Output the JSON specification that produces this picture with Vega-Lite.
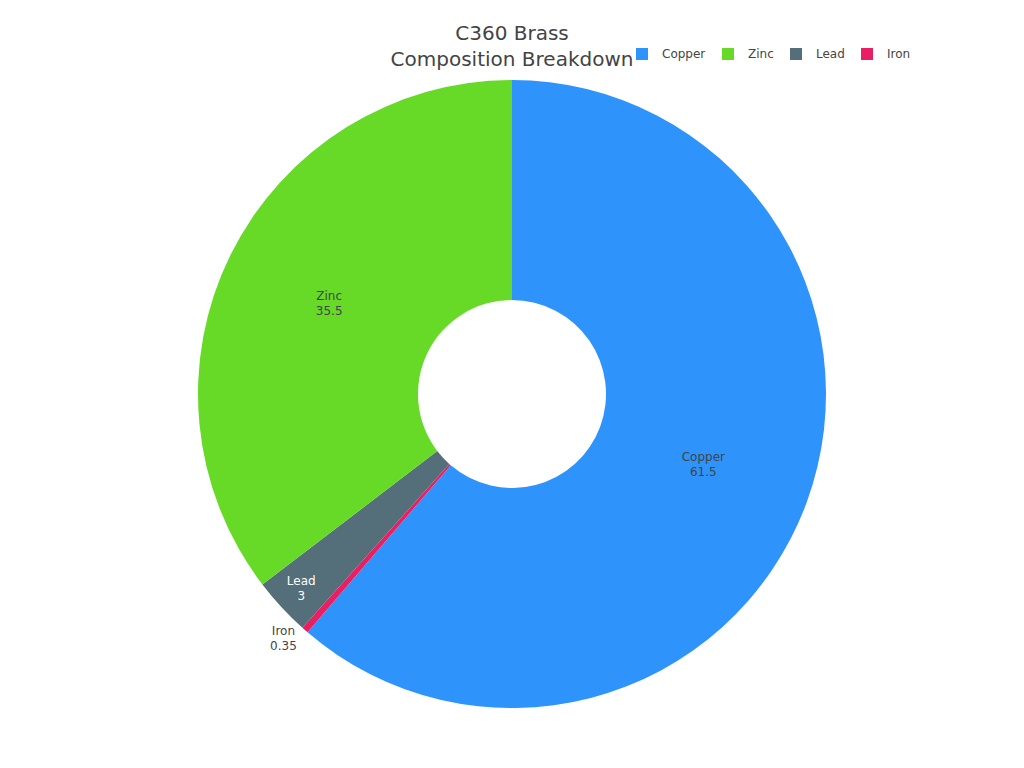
{
  "$schema": "https://vega.github.io/schema/vega-lite/v6.json",
  "width": 1024,
  "height": 788,
  "autosize": "none",
  "padding": 0,
  "background": "white",
  "title": {
    "text": ["C360 Brass", "Composition Breakdown"],
    "anchor": "middle",
    "baseline": "top",
    "offset": 0,
    "dy": 70,
    "fontSize": 20,
    "lineHeight": 26,
    "font": "DejaVu Sans",
    "fontWeight": "normal",
    "color": "#444"
  },
  "data": {
    "values": [
      {"name": "Copper", "value": 61.5, "order": 1},
      {"name": "Iron", "value": 0.35, "order": 2},
      {"name": "Lead", "value": 3, "order": 3},
      {"name": "Zinc", "value": 35.5, "order": 4}
    ]
  },
  "transform": [
    {"calculate": "[datum.name, datum.value + '']", "as": "label"}
  ],
  "encoding": {
    "theta": {"field": "value", "type": "quantitative", "stack": true},
    "order": {"field": "order", "type": "quantitative"}
  },
  "layer": [
    {
      "mark": {"type": "arc", "innerRadius": 94, "outerRadius": 314},
      "encoding": {
        "color": {
          "field": "name",
          "type": "nominal",
          "scale": {
            "domain": ["Copper", "Zinc", "Lead", "Iron"],
            "range": ["#2E93FA", "#66DA26", "#546E7A", "#E91E63"]
          },
          "legend": {
            "title": null,
            "orient": "none",
            "legendX": 636,
            "legendY": 48,
            "direction": "horizontal",
            "symbolType": "square",
            "symbolSize": 144,
            "symbolStrokeWidth": 0,
            "symbolOpacity": 1,
            "labelFontSize": 12,
            "labelFont": "DejaVu Sans",
            "labelColor": "#444",
            "labelOffset": 14,
            "columnPadding": 16
          }
        }
      }
    },
    {
      "mark": {
        "type": "text",
        "radius": {"expr": "datum.name == 'Iron' ? 336 : datum.name == 'Lead' ? 287 : 204"},
        "dx": {"expr": "datum.name == 'Iron' ? -7 : 0"},
        "dy": {"expr": "datum.name == 'Iron' ? -16 : -8"},
        "fontSize": 12,
        "lineHeight": 15,
        "font": "DejaVu Sans",
        "baseline": "middle",
        "align": "center"
      },
      "encoding": {
        "text": {"field": "label"},
        "color": {
          "condition": {"test": "datum.name == 'Lead'", "value": "white"},
          "value": "#444"
        }
      }
    }
  ]
}
